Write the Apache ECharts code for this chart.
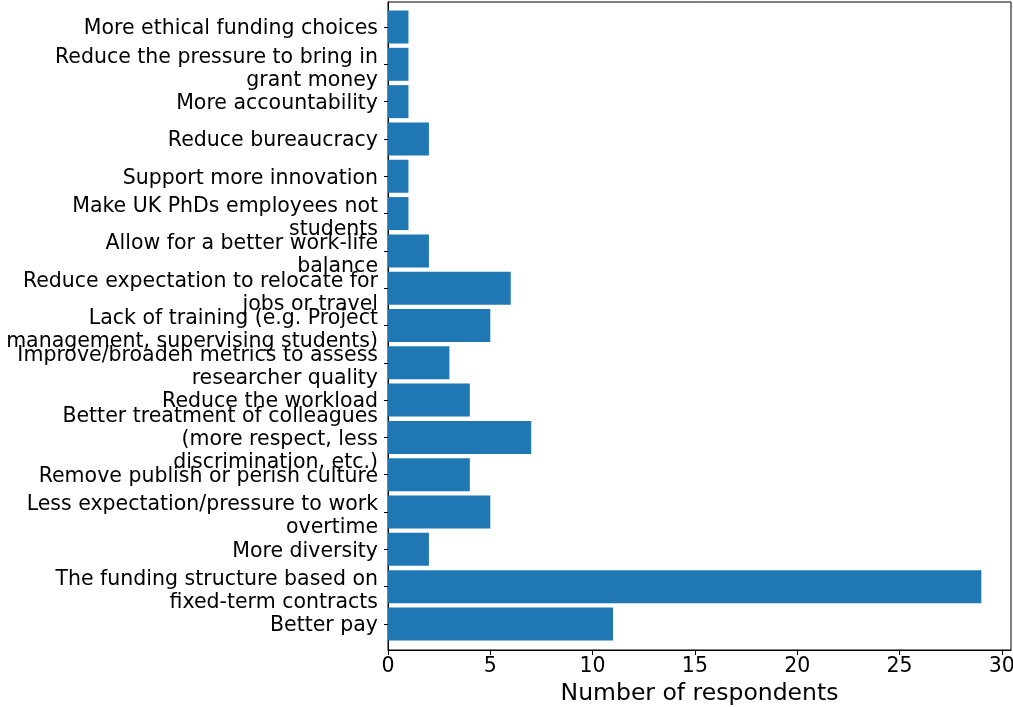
<!DOCTYPE html>
<html>
<head>
<meta charset="utf-8">
<script src="https://cdn.jsdelivr.net/npm/echarts@6/dist/echarts.min.js"></script>
<style>html,body{margin:0;padding:0;background:#fff}#c{width:1013px;height:707px}</style>
</head>
<body>
<div id="c"></div>
<script>
const categories = [
  "More ethical funding choices",
  "Reduce the pressure to bring in\ngrant money",
  "More accountability",
  "Reduce bureaucracy",
  "Support more innovation",
  "Make UK PhDs employees not\nstudents",
  "Allow for a better work-life\nbalance",
  "Reduce expectation to relocate for\njobs or travel",
  "Lack of training (e.g. Project\nmanagement, supervising students)",
  "Improve/broaden metrics to assess\nresearcher quality",
  "Reduce the workload",
  "Better treatment of colleagues\n(more respect, less\ndiscrimination, etc.)",
  "Remove publish or perish culture",
  "Less expectation/pressure to work\novertime",
  "More diversity",
  "The funding structure based on\nfixed-term contracts",
  "Better pay"
];
const respondents = [1, 1, 1, 2, 1, 1, 2, 6, 5, 3, 4, 7, 4, 5, 2, 29, 11];
const xTicks = [0, 5, 10, 15, 20, 25, 30];
const xMax = 30.45;

const font = "DejaVu Sans";
function nLines(v) { return v.split("\n").length; }
const labelBase = {fontSize: 20.5, lineHeight: 23, color: '#000', margin: 10, align: 'right', fontFamily: font, interval: 0};

// plot band geometry (shared); label grids are nudged vertically like matplotlib's label placement
const plotTop = 8.35, plotBottom = 64.35;
function bandGrid(shift) {
  return {left: 388, right: 2, top: plotTop + shift, bottom: plotBottom - shift, outerBoundsMode: 'none', containLabel: false};
}
function labelAxis(gridIndex, filter) {
  return {
    gridIndex: gridIndex, type: 'category', data: categories, inverse: true, position: 'left',
    axisLine: {show: false}, axisTick: {show: false}, splitLine: {show: false},
    axisLabel: Object.assign({}, labelBase, {formatter: function (v) { return filter(v) ? v : ''; }})
  };
}

const chart = echarts.init(document.getElementById('c'), null, {renderer: 'canvas'});
chart.setOption({
  animation: false,
  backgroundColor: '#fff',
  textStyle: {fontFamily: font},
  grid: [
    {left: 388, right: 2, top: 2, bottom: 57, outerBoundsMode: 'none', containLabel: false, show: true, borderColor: '#000', borderWidth: 1, backgroundColor: 'transparent'},
    bandGrid(0),
    bandGrid(2),
    bandGrid(4.5)
  ],
  xAxis: [
    {
      gridIndex: 0, type: 'value', min: 0, max: xMax,
      axisLine: {show: true, lineStyle: {color: '#000', width: 1}},
      axisTick: {show: true, length: 5, lineStyle: {color: '#000'}, customValues: xTicks},
      axisLabel: {fontSize: 20.5, color: '#000', margin: 6, fontFamily: font, customValues: xTicks},
      splitLine: {show: false},
      name: 'Number of respondents', nameLocation: 'middle', nameGap: 31,
      nameTextStyle: {fontSize: 23.5, color: '#000', fontFamily: font}
    },
    {gridIndex: 1, type: 'value', min: 0, max: xMax, show: false},
    {gridIndex: 2, type: 'value', min: 0, max: xMax, show: false},
    {gridIndex: 3, type: 'value', min: 0, max: xMax, show: false}
  ],
  yAxis: [
    {
      gridIndex: 0, type: 'value', min: 0, max: 1,
      axisLine: {show: true, lineStyle: {color: '#000'}},
      axisTick: {show: false}, axisLabel: {show: false}, splitLine: {show: false}
    },
    {
      gridIndex: 1, type: 'category', data: categories, inverse: true, position: 'left',
      axisLine: {show: false},
      axisTick: {show: true, alignWithLabel: true, length: 4, lineStyle: {color: '#000'}},
      axisLabel: {show: false},
      splitLine: {show: false}
    },
    labelAxis(2, function (v) { return nLines(v) !== 2; }),
    labelAxis(3, function (v) { return nLines(v) === 2; })
  ],
  series: [{
    type: 'bar', xAxisIndex: 1, yAxisIndex: 1,
    data: respondents, barWidth: 33,
    itemStyle: {color: '#1f77b4'}
  }]
});
</script>
</body>
</html>
